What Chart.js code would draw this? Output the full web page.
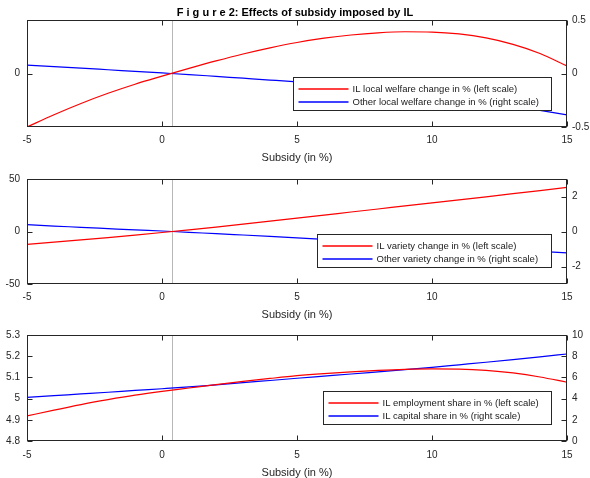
<!DOCTYPE html>
<html>
<head>
<meta charset="utf-8">
<script src="https://cdn.jsdelivr.net/npm/chart.js@4/dist/chart.umd.min.js"></script>
<style>
  html, body { margin: 0; padding: 0; background: #ffffff; }
  body { width: 590px; height: 478px; position: relative; overflow: hidden; }
  canvas { position: absolute; left: 0; display: block; }
</style>
</head>
<body>
<canvas id="c1" width="590" height="163" style="top:0px"></canvas>
<canvas id="c2" width="590" height="157" style="top:163px"></canvas>
<canvas id="c3" width="590" height="158" style="top:320px"></canvas>
<script>
// ---------- data ----------
const subsidy = [-5, -4, -3, -2, -1, 0, 1, 2, 3, 4, 5, 6, 7, 8, 9, 10, 11, 12, 13, 14, 15];
const markerSubsidy = 0.37;
const xTicks = [-5, 0, 5, 10, 15];
const xTitle = 'Subsidy (in %)';
const figTitle = 'F i g u r e 2: Effects of subsidy imposed by IL';

// Panel 1: welfare
const welfareLabels = ['IL local welfare change in % (left scale)', 'Other local welfare change in % (right scale)'];
const ilWelfare    = [-1.0, -0.77, -0.56, -0.37, -0.2, -0.05, 0.095, 0.235, 0.365, 0.48, 0.58, 0.66, 0.72, 0.76, 0.78, 0.775, 0.74, 0.665, 0.545, 0.375, 0.14];
const otherWelfare = [0.078, 0.064, 0.050, 0.035, 0.020, 0.005, -0.010, -0.027, -0.044, -0.061, -0.079, -0.101, -0.124, -0.149, -0.176, -0.205, -0.236, -0.269, -0.305, -0.344, -0.387];
const welfareLeftTicks  = [0];
const welfareRightTicks = [-0.5, 0, 0.5];

// Panel 2: variety
const varietyLabels = ['IL variety change in % (left scale)', 'Other variety change in % (right scale)'];
const ilVariety    = [-12.2, -10.15, -8.0, -5.75, -3.4, -0.95, 1.6, 4.25, 7.0, 9.85, 12.75, 15.65, 18.55, 21.45, 24.35, 27.25, 30.15, 33.05, 36.0, 39.0, 42.0];
const otherVariety = [0.39, 0.31, 0.24, 0.165, 0.09, 0.03, -0.05, -0.12, -0.20, -0.28, -0.36, -0.445, -0.53, -0.62, -0.71, -0.795, -0.88, -0.965, -1.05, -1.135, -1.22];
const varietyLeftTicks  = [-50, 0, 50];
const varietyRightTicks = [-2, 0, 2];

// Panel 3: shares
const shareLabels = ['IL employment share in % (left scale)', 'IL capital share in % (right scale)'];
const ilEmployment = [4.918, 4.946, 4.972, 4.995, 5.016, 5.034, 5.050, 5.066, 5.081, 5.095, 5.108, 5.118, 5.126, 5.133, 5.138, 5.140, 5.139, 5.133, 5.121, 5.102, 5.077];
const ilCapital    = [4.12, 4.28, 4.44, 4.60, 4.77, 4.93, 5.10, 5.30, 5.50, 5.71, 5.92, 6.12, 6.32, 6.53, 6.74, 6.95, 7.19, 7.43, 7.68, 7.94, 8.21];
const shareLeftTicks  = [4.8, 4.9, 5, 5.1, 5.2, 5.3];
const shareRightTicks = [0, 2, 4, 6, 8, 10];

// ---------- styling ----------
const FONT = '"Liberation Sans", Arial, Helvetica, sans-serif';
const INK = '#262626';
Chart.defaults.font.family = FONT;

const framePlugin = {
  id: 'frame',
  beforeDatasetsDraw(chart) {
    const { ctx, chartArea: a } = chart;
    const x = Math.round(chart.scales.x.getPixelForValue(markerSubsidy)) + 0.5;
    ctx.save();
    ctx.strokeStyle = '#b8b8b8';
    ctx.lineWidth = 1;
    ctx.beginPath();
    ctx.moveTo(x, a.top);
    ctx.lineTo(x, a.bottom);
    ctx.stroke();
    ctx.restore();
  },
  afterDatasetsDraw(chart, args, opts) {
    const { ctx, chartArea: a, scales } = chart;
    const L = Math.round(a.left) + 0.5, R = Math.round(a.right) - 0.5;
    const T = Math.round(a.top) + 0.5, B = Math.round(a.bottom) - 0.5;
    const tk = 5;
    ctx.save();
    ctx.strokeStyle = INK;
    ctx.lineWidth = 1;
    ctx.strokeRect(L, T, R - L, B - T);
    ctx.beginPath();
    scales.x.ticks.forEach(t => {
      const px = Math.round(scales.x.getPixelForValue(t.value)) + 0.5;
      ctx.moveTo(px, B); ctx.lineTo(px, B - tk);
      ctx.moveTo(px, T); ctx.lineTo(px, T + tk);
    });
    scales.yL.ticks.forEach(t => {
      const py = Math.round(scales.yL.getPixelForValue(t.value)) + 0.5;
      ctx.moveTo(L, py); ctx.lineTo(L + tk, py);
    });
    scales.yR.ticks.forEach(t => {
      const py = Math.round(scales.yR.getPixelForValue(t.value)) + 0.5;
      ctx.moveTo(R, py); ctx.lineTo(R - tk, py);
    });
    ctx.stroke();

    // legend box inside the plot
    const ds = chart.data.datasets;
    ctx.font = '9.5px ' + FONT;
    const tw = Math.max(...ds.map(d => ctx.measureText(d.label).width));
    const w = Math.round(5 + 50 + 4 + tw + 13), h = 33;
    const bx = Math.round(a.right - 16 - w) + 0.5;
    const by = Math.round(a.top + opts.top) + 0.5;
    ctx.fillStyle = '#ffffff';
    ctx.fillRect(bx, by, w, h);
    ctx.strokeStyle = INK;
    ctx.lineWidth = 1;
    ctx.strokeRect(bx, by, w, h);
    ds.forEach((d, i) => {
      const y = Math.round(by + 11 + i * 13.5);
      ctx.strokeStyle = d.borderColor;
      ctx.lineWidth = 1.3;
      ctx.beginPath();
      ctx.moveTo(bx + 5, y);
      ctx.lineTo(bx + 55, y);
      ctx.stroke();
      ctx.fillStyle = '#1a1a1a';
      ctx.textBaseline = 'middle';
      ctx.textAlign = 'left';
      ctx.fillText(d.label, bx + 59, y);
    });
    ctx.restore();
  }
};

function toPoints(ys) { return subsidy.map((x, i) => ({ x: x, y: ys[i] })); }
function fixedTicks(arr) { return s => { s.ticks = arr.map(v => ({ value: v })); }; }

function panel(id, p) {
  return new Chart(document.getElementById(id), {
    type: 'line',
    data: {
      datasets: [
        { label: p.labels[0], data: toPoints(p.left), yAxisID: 'yL', borderColor: '#ff0000', borderWidth: 1.2,
          pointRadius: 0, fill: false, cubicInterpolationMode: 'monotone' },
        { label: p.labels[1], data: toPoints(p.right), yAxisID: 'yR', borderColor: '#0000ff', borderWidth: 1.2,
          pointRadius: 0, fill: false, cubicInterpolationMode: 'monotone' }
      ]
    },
    options: {
      responsive: false,
      animation: false,
      devicePixelRatio: 1,
      layout: { padding: { top: p.padTop, left: 0, right: 0, bottom: 0 } },
      plugins: {
        legend: { display: false },
        tooltip: { enabled: false },
        title: p.title ? {
          display: true, text: p.title, color: '#000000',
          font: { size: 11, weight: 'bold', family: FONT, lineHeight: 1 },
          padding: { top: 7, bottom: 2 }
        } : { display: false },
        frame: { top: p.legendTop }
      },
      scales: {
        x: {
          type: 'linear', min: -5, max: 15,
          afterBuildTicks: fixedTicks(xTicks),
          afterFit: s => { s.height = p.xH; },
          grid: { display: false, drawTicks: false }, border: { display: false },
          ticks: { padding: p.tickPad, maxRotation: 0, color: INK, font: { size: 10, family: FONT }, callback: v => String(v) },
          title: { display: true, text: xTitle, color: INK, padding: 0, font: { size: 11, family: FONT, lineHeight: 1 } }
        },
        yL: {
          type: 'linear', position: 'left', min: p.lMin, max: p.lMax,
          afterBuildTicks: fixedTicks(p.lTicks),
          afterFit: s => { s.width = 27; },
          grid: { display: false, drawTicks: false }, border: { display: false },
          ticks: { padding: 7, color: INK, font: { size: 10, family: FONT }, callback: v => String(v) }
        },
        yR: {
          type: 'linear', position: 'right', min: p.rMin, max: p.rMax,
          afterBuildTicks: fixedTicks(p.rTicks),
          afterFit: s => { s.width = 23; },
          grid: { display: false, drawTicks: false }, border: { display: false },
          ticks: { padding: 5, color: INK, font: { size: 10, family: FONT }, callback: v => String(v) }
        }
      }
    },
    plugins: [framePlugin]
  });
}

panel('c1', { title: figTitle, labels: welfareLabels, left: ilWelfare, right: otherWelfare,
  lMin: -1, lMax: 1, lTicks: welfareLeftTicks, rMin: -0.5, rMax: 0.5, rTicks: welfareRightTicks,
  padTop: 0, xH: 36, tickPad: 7, legendTop: 57 });
panel('c2', { labels: varietyLabels, left: ilVariety, right: otherVariety,
  lMin: -50, lMax: 50, lTicks: varietyLeftTicks, rMin: -3, rMax: 3, rTicks: varietyRightTicks,
  padTop: 16, xH: 36, tickPad: 7, legendTop: 55 });
panel('c3', { labels: shareLabels, left: ilEmployment, right: ilCapital,
  lMin: 4.8, lMax: 5.3, lTicks: shareLeftTicks, rMin: 0, rMax: 10, rTicks: shareRightTicks,
  padTop: 15, xH: 37, tickPad: 8, legendTop: 56 });
</script>
</body>
</html>
